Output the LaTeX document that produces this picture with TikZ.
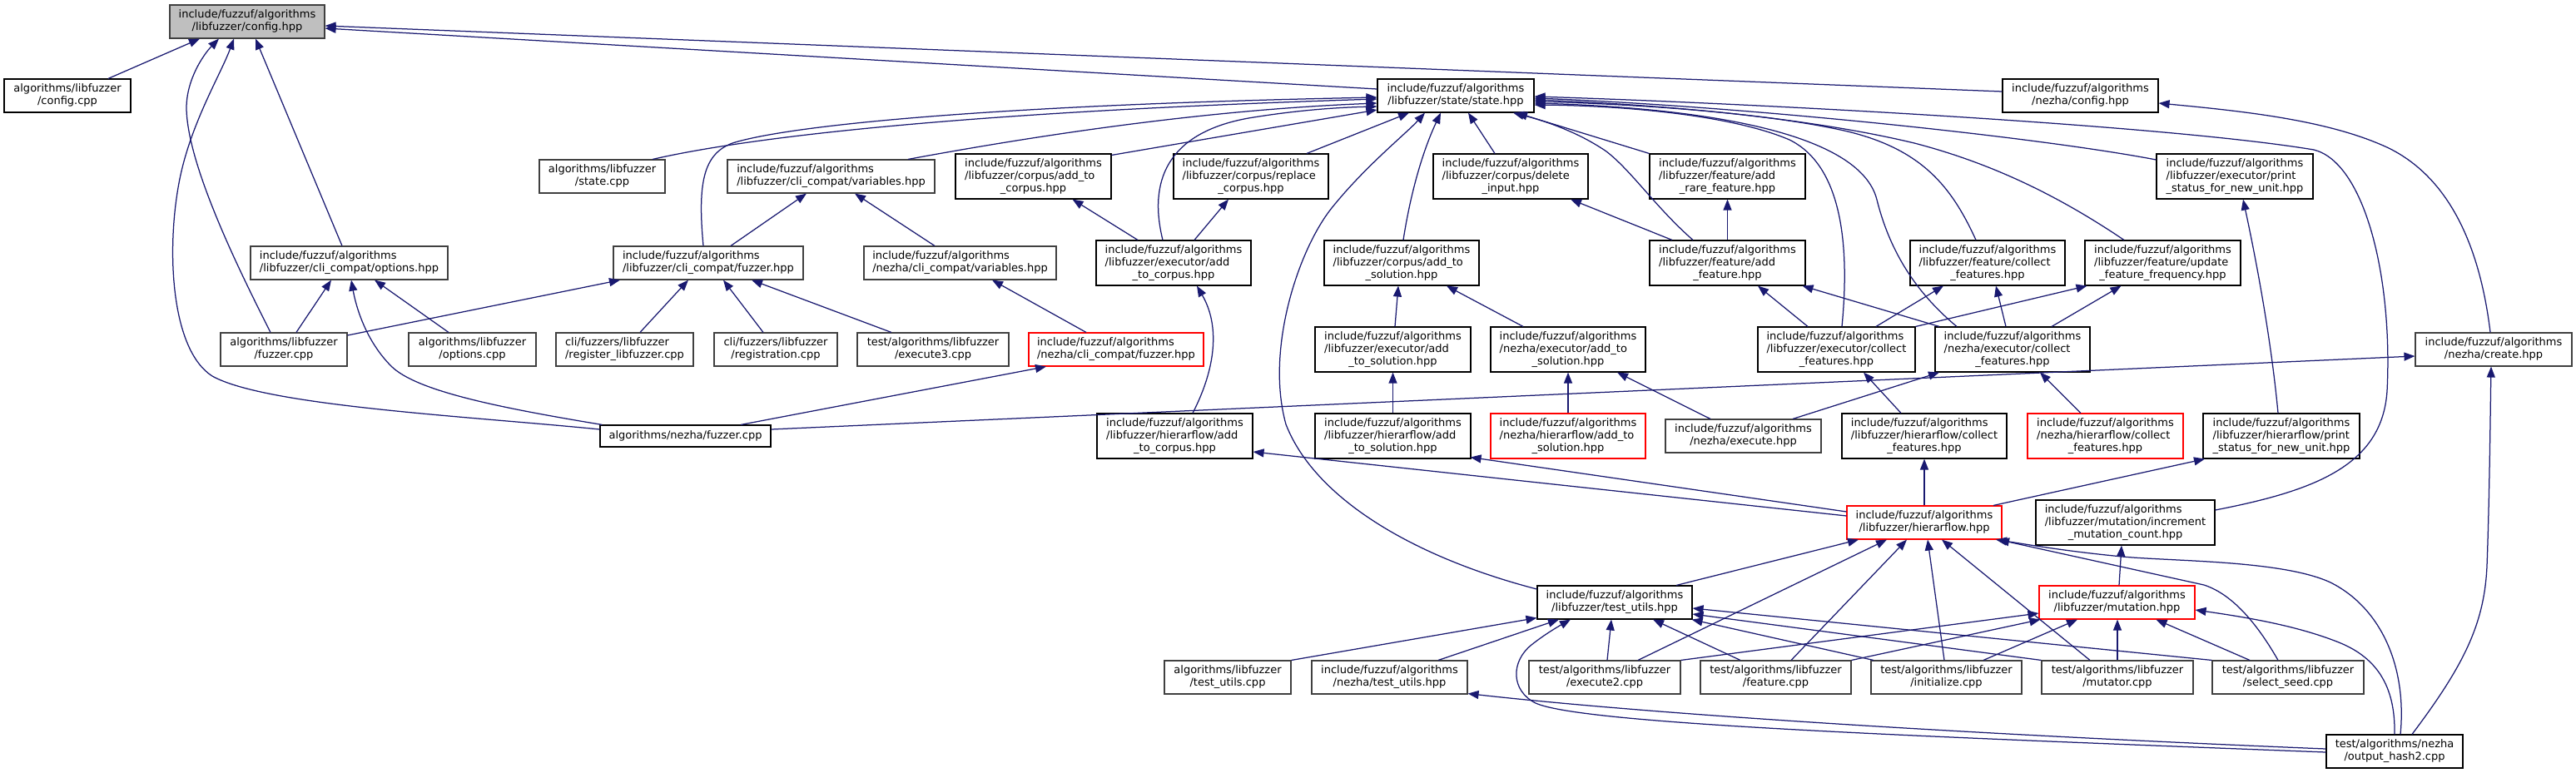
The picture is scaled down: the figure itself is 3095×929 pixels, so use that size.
\documentclass[tikz,border=0pt]{standalone}
\usepackage{fontspec}
\setmainfont{DejaVu Sans}
\usetikzlibrary{arrows.meta}
\definecolor{edgec}{HTML}{191970}
\definecolor{gborder}{HTML}{404040}
\definecolor{rootfill}{HTML}{BFBFBF}
\newcommand{\lbtwo}[2]{\begin{tabular}{@{}l@{}}#1\\\multicolumn{1}{@{}c@{}}{#2}\end{tabular}}
\newcommand{\lbthree}[3]{\begin{tabular}{@{}l@{}}#1\\#2\\\multicolumn{1}{@{}c@{}}{#3}\end{tabular}}
\newcommand{\nd}[7]{\node[#1,minimum width=#5pt,minimum height=#6pt] (#2) at (#3,#4) {#7};}
\newcommand{\ifa}{include/fuzzuf/algorithms}
\tikzset{
  boxbase/.style={rectangle, inner sep=0pt, line width=1.1pt, fill=white,
    font={\fontsize{13pt}{15pt}\selectfont}},
  bk/.style={boxbase, draw=black},
  gy/.style={boxbase, draw=gborder},
  rd/.style={boxbase, draw=red},
  rootbox/.style={boxbase, draw=gborder, fill=rootfill},
  edge/.style={draw=edgec, line width=1.25pt, -{Triangle[length=13pt,width=10pt]}}
}
\begin{document}
\begin{tikzpicture}[x=1pt,y=-1pt]
\useasboundingbox (0,0) rectangle (3095,929);
% ---------------- nodes ----------------
\nd{rootbox}{cfg}{297}{26}{186}{40}{\lbtwo{\ifa}{/libfuzzer/config.hpp}}
\nd{bk}{cfgcpp}{81}{115}{152}{40}{\lbtwo{algorithms/libfuzzer}{/config.cpp}}
\nd{gy}{statecpp}{723.5}{212}{151}{40}{\lbtwo{algorithms/libfuzzer}{/state.cpp}}
\nd{gy}{opts}{419.5}{316}{237}{40}{\lbtwo{\ifa}{/libfuzzer/cli\_compat/options.hpp}}
\nd{gy}{clifuzz}{851}{316}{228}{40}{\lbtwo{\ifa}{/libfuzzer/cli\_compat/fuzzer.hpp}}
\nd{gy}{lfcpp}{341}{420}{152}{40}{\lbtwo{algorithms/libfuzzer}{/fuzzer.cpp}}
\nd{gy}{optcpp}{567.5}{420}{153}{40}{\lbtwo{algorithms/libfuzzer}{/options.cpp}}
\nd{gy}{reglf}{750.5}{420}{165}{40}{\lbtwo{cli/fuzzers/libfuzzer}{/register\_libfuzzer.cpp}}
\nd{bk}{nzfcpp}{823.5}{524}{205}{26}{algorithms/nezha/fuzzer.cpp}
\nd{gy}{vars}{998.5}{212}{249}{40}{\lbtwo{\ifa}{/libfuzzer/cli\_compat/variables.hpp}}
\nd{bk}{cadd}{1241.5}{212}{187}{54}{\lbthree{\ifa}{/libfuzzer/corpus/add\_to}{\_corpus.hpp}}
\nd{bk}{crep}{1503}{212}{186}{54}{\lbthree{\ifa}{/libfuzzer/corpus/replace}{\_corpus.hpp}}
\nd{gy}{nzvars}{1153.5}{316}{231}{40}{\lbtwo{\ifa}{/nezha/cli\_compat/variables.hpp}}
\nd{bk}{eadd}{1410}{316}{186}{54}{\lbthree{\ifa}{/libfuzzer/executor/add}{\_to\_corpus.hpp}}
\nd{gy}{regcpp}{932}{420}{148}{40}{\lbtwo{cli/fuzzers/libfuzzer}{/registration.cpp}}
\nd{gy}{exe3}{1121}{420}{182}{40}{\lbtwo{test/algorithms/libfuzzer}{/execute3.cpp}}
\nd{rd}{nzclif}{1341}{420}{210}{40}{\lbtwo{\ifa}{/nezha/cli\_compat/fuzzer.hpp}}
\nd{bk}{state}{1749}{115}{188}{40}{\lbtwo{\ifa}{/libfuzzer/state/state.hpp}}
\nd{bk}{cdel}{1815}{212}{186}{54}{\lbthree{\ifa}{/libfuzzer/corpus/delete}{\_input.hpp}}
\nd{bk}{rare}{2075.5}{212}{187}{54}{\lbthree{\ifa}{/libfuzzer/feature/add}{\_rare\_feature.hpp}}
\nd{bk}{csol}{1684}{316}{186}{54}{\lbthree{\ifa}{/libfuzzer/corpus/add\_to}{\_solution.hpp}}
\nd{bk}{addf}{2075.5}{316}{187}{54}{\lbthree{\ifa}{/libfuzzer/feature/add}{\_feature.hpp}}
\nd{bk}{fcoll}{2388}{316}{186}{54}{\lbthree{\ifa}{/libfuzzer/feature/collect}{\_features.hpp}}
\nd{bk}{esol}{1673.5}{420}{187}{54}{\lbthree{\ifa}{/libfuzzer/executor/add}{\_to\_solution.hpp}}
\nd{bk}{nzesol}{1884}{420}{186}{54}{\lbthree{\ifa}{/nezha/executor/add\_to}{\_solution.hpp}}
\nd{bk}{ecoll}{2206.5}{420}{189}{54}{\lbthree{\ifa}{/libfuzzer/executor/collect}{\_features.hpp}}
\nd{bk}{nzecoll}{2418}{420}{186}{54}{\lbthree{\ifa}{/nezha/executor/collect}{\_features.hpp}}
\nd{bk}{nzcfg}{2499.5}{115}{187}{40}{\lbtwo{\ifa}{/nezha/config.hpp}}
\nd{bk}{eprint}{2685}{212}{188}{54}{\lbthree{\ifa}{/libfuzzer/executor/print}{\_status\_for\_new\_unit.hpp}}
\nd{bk}{upd}{2598.5}{316}{187}{54}{\lbthree{\ifa}{/libfuzzer/feature/update}{\_feature\_frequency.hpp}}
\nd{gy}{create}{2996}{420}{188}{40}{\lbtwo{\ifa}{/nezha/create.hpp}}
\nd{bk}{hadd}{1411.5}{524}{187}{54}{\lbthree{\ifa}{/libfuzzer/hierarflow/add}{\_to\_corpus.hpp}}
\nd{gy}{tucpp}{1475}{814}{152}{40}{\lbtwo{algorithms/libfuzzer}{/test\_utils.cpp}}
\nd{bk}{hsol}{1673.5}{524}{187}{54}{\lbthree{\ifa}{/libfuzzer/hierarflow/add}{\_to\_solution.hpp}}
\nd{rd}{nzhsol}{1884}{524}{186}{54}{\lbthree{\ifa}{/nezha/hierarflow/add\_to}{\_solution.hpp}}
\nd{gy}{nzexec}{2094.5}{524}{187}{40}{\lbtwo{\ifa}{/nezha/execute.hpp}}
\nd{bk}{hcoll}{2312}{524}{198}{54}{\lbthree{\ifa}{/libfuzzer/hierarflow/collect}{\_features.hpp}}
\nd{rd}{hflow}{2312}{628}{186}{40}{\lbtwo{\ifa}{/libfuzzer/hierarflow.hpp}}
\nd{bk}{tuh}{1940}{724}{186}{40}{\lbtwo{\ifa}{/libfuzzer/test\_utils.hpp}}
\nd{gy}{nztu}{1669.5}{814}{187}{40}{\lbtwo{\ifa}{/nezha/test\_utils.hpp}}
\nd{gy}{exe2}{1928}{814}{182}{40}{\lbtwo{test/algorithms/libfuzzer}{/execute2.cpp}}
\nd{gy}{featcpp}{2133.5}{814}{181}{40}{\lbtwo{test/algorithms/libfuzzer}{/feature.cpp}}
\nd{gy}{initcpp}{2338.5}{814}{181}{40}{\lbtwo{test/algorithms/libfuzzer}{/initialize.cpp}}
\nd{rd}{nzhcoll}{2529.5}{524}{187}{54}{\lbthree{\ifa}{/nezha/hierarflow/collect}{\_features.hpp}}
\nd{bk}{hprint}{2741}{524}{188}{54}{\lbthree{\ifa}{/libfuzzer/hierarflow/print}{\_status\_for\_new\_unit.hpp}}
\nd{bk}{incr}{2553.5}{628}{215}{54}{\lbthree{\ifa}{/libfuzzer/mutation/increment}{\_mutation\_count.hpp}}
\nd{rd}{mut}{2543.5}{724}{187}{40}{\lbtwo{\ifa}{/libfuzzer/mutation.hpp}}
\nd{gy}{mutcpp}{2544}{814}{182}{40}{\lbtwo{test/algorithms/libfuzzer}{/mutator.cpp}}
\nd{gy}{selcpp}{2749}{814}{182}{40}{\lbtwo{test/algorithms/libfuzzer}{/select\_seed.cpp}}
\nd{bk}{oh2}{2877}{903}{164}{40}{\lbtwo{test/algorithms/nezha}{/output\_hash2.cpp}}
% ---------------- edges ----------------
% into config.hpp
\draw[edge] ([xshift=49pt]cfgcpp.north) -- ([xshift=-57pt]cfg.south);
\draw[edge] ([xshift=-16pt]lfcpp.north) .. controls (290,330) and (225,200) .. (224,130) .. controls (224,95) and (245,65) .. ([xshift=-34pt]cfg.south);
\draw[edge] ([yshift=8pt]nzfcpp.west) .. controls (560,500) and (320,488) .. (255,452) .. controls (205,420) and (200,300) .. (215,220) .. controls (228,150) and (265,90) .. ([xshift=-16pt]cfg.south);
\draw[edge] ([xshift=-8.5pt]opts.north) -- ([xshift=10pt]cfg.south);
\draw[edge] ([yshift=8pt]state.west) -- ([yshift=-8pt]cfg.east);
\draw[edge] ([yshift=5pt]nzcfg.west) -- ([yshift=-5pt]cfg.east);
% options.hpp
\draw[edge] ([xshift=15pt]lfcpp.north) -- ([xshift=-21.5pt]opts.south);
\draw[edge] ([xshift=-28.5pt]optcpp.north) -- ([xshift=30.5pt]opts.south);
\draw[edge] ([xshift=3pt]nzfcpp.north west) .. controls (600,490) and (500,470) .. (470,440) .. controls (440,410) and (428,370) .. ([xshift=2.5pt]opts.south);
% cli_compat/fuzzer.hpp
\draw[edge] ([yshift=17pt]lfcpp.east) -- ([xshift=-106pt]clifuzz.south);
\draw[edge] ([xshift=18.5pt]reglf.north) -- ([xshift=-24pt]clifuzz.south);
\draw[edge] ([xshift=-15pt]regcpp.north) -- ([xshift=18pt]clifuzz.south);
\draw[edge] ([xshift=-50pt]exe3.north) -- ([xshift=52pt]clifuzz.south);
% variables
\draw[edge] ([xshift=27pt]clifuzz.north) -- ([xshift=-29.5pt]vars.south);
\draw[edge] ([xshift=-30.5pt]nzvars.north) -- ([xshift=28.5pt]vars.south);
\draw[edge] ([xshift=-36pt]nzclif.north) -- ([xshift=38.5pt]nzvars.south);
\draw[edge] ([xshift=66.5pt]nzfcpp.north) -- ([xshift=-84pt]nzclif.south);
% into state.hpp from the left
\draw[edge] ([xshift=-6pt]clifuzz.north) .. controls (838,220) and (845,185) .. (880,172) .. controls (950,150) and (1200,126) .. ([yshift=-2pt]state.west);
\draw[edge] ([xshift=60.5pt]statecpp.north) .. controls (900,165) and (1150,135) .. ([yshift=-4pt]state.west);
\draw[edge] ([xshift=92.5pt]vars.north) .. controls (1250,162) and (1450,132) .. ([yshift=-9pt]state.west);
\draw[edge] ([xshift=-13pt]eadd.north) .. controls (1380,220) and (1400,160) .. (1500,142) .. controls (1560,132) and (1610,129) .. ([yshift=-13pt]state.west);
\draw[edge] ([yshift=-2pt]cadd.north east) -- ([yshift=-17pt]state.west);
\draw[edge] ([xshift=67pt]crep.north) -- ([xshift=-56pt]state.south);
\draw[edge] ([yshift=16pt]tuh.west) .. controls (1700,670) and (1580,600) .. (1545,510) .. controls (1520,420) and (1560,300) .. (1600,250) .. controls (1640,200) and (1690,160) .. ([xshift=-37pt]state.south);
\draw[edge] ([xshift=2pt]csol.north) .. controls (1695,230) and (1710,180) .. ([xshift=-18pt]state.south);
\draw[edge] ([xshift=-19pt]cdel.north) -- ([xshift=15pt]state.south);
\draw[edge] (rare.north west) -- ([xshift=73pt]state.south);
\draw[edge] ([xshift=-41.5pt]addf.north) .. controls (1990,250) and (1960,205) .. (1930,182) .. controls (1895,158) and (1855,145) .. ([xshift=69pt]state.south);
% into state.hpp from the right
\draw[edge] ([xshift=6.5pt]ecoll.north) .. controls (2222,300) and (2215,200) .. (2150,168) .. controls (2080,138) and (1950,127) .. ([yshift=-11pt]state.east);
\draw[edge] ([xshift=-67pt]nzecoll.north) .. controls (2300,350) and (2270,300) .. (2255,240) .. controls (2235,160) and (2050,130) .. ([yshift=-9pt]state.east);
\draw[edge] ([xshift=-14pt]fcoll.north) .. controls (2345,225) and (2310,180) .. (2220,158) .. controls (2120,135) and (1960,125) .. ([yshift=-7pt]state.east);
\draw[edge] ([xshift=-46.5pt]upd.north) .. controls (2480,240) and (2400,198) .. (2300,172) .. controls (2150,136) and (1950,124) .. ([yshift=-5pt]state.east);
\draw[edge] ([yshift=20pt]eprint.west) .. controls (2450,165) and (2100,128) .. ([yshift=-3pt]state.east);
\draw[edge] ([yshift=15pt]incr.east) .. controls (2780,590) and (2862,560) .. (2868,470) .. controls (2875,330) and (2840,195) .. (2780,180) .. controls (2600,150) and (2100,124) .. ([yshift=-1pt]state.east);
% nezha config / create
\draw[edge] ([xshift=-4pt]create.north) .. controls (2980,300) and (2945,215) .. (2870,178) .. controls (2800,145) and (2700,134) .. ([yshift=-9pt]nzcfg.east);
\draw[edge] ([xshift=21pt]oh2.north) .. controls (2960,800) and (2985,750) .. (2988,680) .. controls (2991,600) and (2992,500) .. ([xshift=-3pt]create.south);
\draw[edge] ([yshift=8pt]nzfcpp.east) -- ([yshift=-8pt]create.west);
% corpus
\draw[edge] ([xshift=-43pt]eadd.north) -- ([xshift=47pt]cadd.south);
\draw[edge] ([xshift=25pt]eadd.north) -- ([xshift=-27pt]crep.south);
\draw[edge] ([xshift=21.5pt]hadd.north) .. controls (1462,440) and (1465,390) .. ([xshift=28pt]eadd.south);
% features
\draw[edge] (addf.north) -- (rare.south);
\draw[edge] ([xshift=-66.5pt]addf.north) -- ([xshift=72pt]cdel.south);
\draw[edge] ([xshift=2.5pt]esol.north) -- ([xshift=-4pt]csol.south);
\draw[edge] ([xshift=-54pt]nzesol.north) -- ([xshift=54pt]csol.south);
\draw[edge] ([xshift=-34.5pt]ecoll.north) -- ([xshift=36.5pt]addf.south);
\draw[edge] ([xshift=-88pt]nzecoll.north) -- ([xshift=90pt]addf.south);
\draw[edge] ([xshift=47.5pt]ecoll.north) -- ([xshift=-53pt]fcoll.south);
\draw[edge] ([xshift=-8pt]nzecoll.north) -- ([xshift=10pt]fcoll.south);
\draw[edge] (ecoll.north east) -- ([xshift=-91pt]upd.south);
\draw[edge] ([xshift=47pt]nzecoll.north) -- ([xshift=-50pt]upd.south);
\draw[edge] ([xshift=-4pt]hprint.north) .. controls (2728,400) and (2708,300) .. ([xshift=10pt]eprint.south);
% hierarflow level
\draw[edge] (hsol.north) -- (esol.south);
\draw[edge] (nzhsol.north) -- (nzesol.south);
\draw[edge] ([xshift=-39.5pt]nzexec.north) -- ([xshift=59pt]nzesol.south);
\draw[edge] ([xshift=59.5pt]nzexec.north) -- ([xshift=-88pt]nzecoll.south);
\draw[edge] ([xshift=-28pt]hcoll.north) -- ([xshift=32.5pt]ecoll.south);
\draw[edge] ([xshift=-29.5pt]nzhcoll.north) -- ([xshift=33pt]nzecoll.south);
\draw[edge] (hflow.north) -- (hcoll.south);
\draw[edge] ([xshift=83pt]hflow.north) -- ([xshift=-92pt]hprint.south);
\draw[edge] ([yshift=13pt]hflow.west) -- ([xshift=-1pt,yshift=2pt]hsol.south east);
\draw[edge] ([yshift=8pt]hflow.west) -- ([yshift=-19pt]hadd.east);
% into hierarflow.hpp
\draw[edge] ([xshift=74pt]tuh.north) -- ([xshift=-79pt]hflow.south);
\draw[edge] ([xshift=40pt]exe2.north) -- ([xshift=-45pt]hflow.south);
\draw[edge] ([xshift=18.5pt]featcpp.north) -- ([xshift=-21pt]hflow.south);
\draw[edge] ([xshift=-2.5pt]initcpp.north) -- ([xshift=4pt]hflow.south);
\draw[edge] ([xshift=-33pt]mutcpp.north) -- ([xshift=21pt]hflow.south);
\draw[edge] ([xshift=-12pt]selcpp.north) .. controls (2715,755) and (2685,715) .. (2648,703) -- ([xshift=89pt]hflow.south);
\draw[edge] ([xshift=7pt]oh2.north) .. controls (2892,800) and (2860,730) .. (2800,700) .. controls (2740,672) and (2600,675) .. (2540,668) .. controls (2480,662) and (2440,655) .. ([xshift=86pt]hflow.south);
% into test_utils.hpp
\draw[edge] (tucpp.north east) -- ([yshift=2pt]tuh.south west);
\draw[edge] ([xshift=58.5pt]nztu.north) -- ([xshift=-67pt]tuh.south);
\draw[edge] ([yshift=-1pt]oh2.west) .. controls (2300,885) and (1900,870) .. (1845,845) .. controls (1815,830) and (1815,795) .. (1840,775) .. controls (1855,763) and (1872,753) .. ([xshift=-53pt]tuh.south);
\draw[edge] ([yshift=3pt]oh2.west) .. controls (2400,884) and (2000,860) .. ([yshift=1pt]nztu.south east);
\draw[edge] ([xshift=3pt]exe2.north) -- ([xshift=-4pt]tuh.south);
\draw[edge] ([xshift=-42.5pt]featcpp.north) -- ([xshift=46pt]tuh.south);
\draw[edge] ([xshift=-87.5pt]initcpp.north) -- ([xshift=-1pt]tuh.south east);
\draw[edge] (mutcpp.north west) -- ([yshift=-14pt]tuh.east);
\draw[edge] (selcpp.north west) -- ([yshift=-7pt]tuh.east);
% mutation
\draw[edge] ([xshift=2.5pt]mut.north) -- ([xshift=-4.5pt]incr.south);
\draw[edge] (exe2.north east) -- ([yshift=-13pt]mut.west);
\draw[edge] (featcpp.north east) -- ([xshift=2pt]mut.south west);
\draw[edge] ([xshift=44.5pt]initcpp.north) -- ([xshift=-47.5pt]mut.south);
\draw[edge] (mutcpp.north) -- (mutcpp.north |- mut.south);
\draw[edge] ([xshift=-46pt]selcpp.north) -- ([xshift=47pt]mut.south);
\draw[edge] (oh2.north) .. controls (2878,830) and (2860,792) .. (2810,772) .. controls (2760,752) and (2700,742) .. ([yshift=-9pt]mut.east);
\end{tikzpicture}
\end{document}
